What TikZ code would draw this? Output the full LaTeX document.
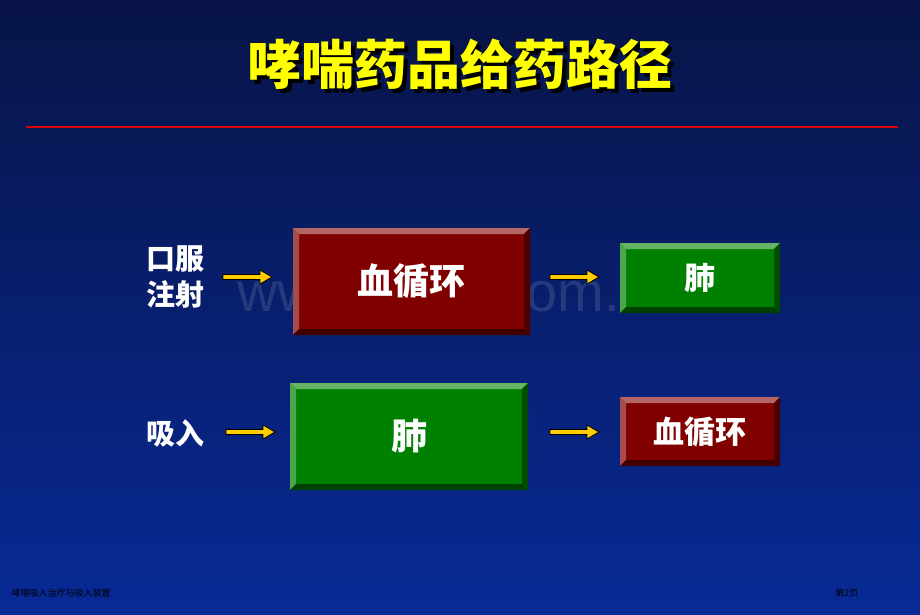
\documentclass[tikz,border=0pt]{standalone}
\usepackage{fontspec}
\newfontfamily\cjk{Noto Sans CJK SC}
\newfontfamily\wmfont{Liberation Sans}
\newfontfamily\footfont{Liberation Serif}
\definecolor{bgtop}{RGB}{8,20,70}
\definecolor{bgbot}{RGB}{8,42,150}
\definecolor{boxred}{RGB}{128,0,0}
\definecolor{boxgreen}{RGB}{0,128,0}
\definecolor{titleyellow}{RGB}{255,255,0}
\definecolor{arrowyellow}{RGB}{255,204,0}
\tikzset{
  lbl/.style={text=white,font=\cjk\bfseries\fontsize{29}{36}\selectfont,align=center},
  boxtext/.style={text=white,font=\cjk\bfseries\fontsize{#1}{#1}\selectfont},
  yarrow/.style={fill=arrowyellow,draw=black,line width=0.8pt,line join=miter},
}
% bevelled box: name, x1, y1, x2, y2, colour, text, size
\newcommand{\bevelbox}[8]{%
  \fill[#6] (#2,#3) rectangle (#4,#5);
  \fill[#6!60!white] (#2,#3) -- (#4,#3) -- (#4-6,#3+6) -- (#2+6,#3+6) -- cycle;
  \fill[#6!70!white] (#2,#3) -- (#2+6,#3+6) -- (#2+6,#5-6) -- (#2,#5) -- cycle;
  \fill[#6!60!black] (#4,#3) -- (#4,#5) -- (#4-6,#5-6) -- (#4-6,#3+6) -- cycle;
  \fill[#6!50!black] (#2,#5) -- (#4,#5) -- (#4-6,#5-6) -- (#2+6,#5-6) -- cycle;
  \node[boxtext=#8] (#1) at ({(#2+#4)/2},{(#3+#5)/2}) {#7};
}
% block arrow: name, x start, y centre
\newcommand{\blockarrow}[3]{%
  \draw[yarrow] (#2,#3-2.5) -- (#2+37,#3-2.5) -- (#2+37,#3-7) -- (#2+49,#3)
    -- (#2+37,#3+7) -- (#2+37,#3+2.5) -- (#2,#3+2.5) -- cycle;
  \coordinate (#1) at (#2+49,#3);
}
\begin{document}
\begin{tikzpicture}[x=1pt,y=-1pt]
  \shade[top color=bgtop,bottom color=bgbot] (0,0) rectangle (920,614);
  \useasboundingbox (0,0) rectangle (920,614);
  % title
  \node[text=black,font=\cjk\bfseries\fontsize{53}{53}\selectfont] at (464,68) {哮喘药品给药路径};
  \node[text=titleyellow,font=\cjk\bfseries\fontsize{53}{53}\selectfont] (title) at (460,64) {哮喘药品给药路径};
  \draw[red!85!black,line width=1.5pt] (26,127) -- (898,127);
  % watermark
  \node[text=white,opacity=0.12,font=\wmfont\fontsize{56}{56}\selectfont] (wm) at (458,291) {www.zixin.com.cn};
  % boxes
  \bevelbox{blood1}{293}{228}{530}{335}{boxred}{血循环}{36}
  \bevelbox{lung1}{620}{243}{780}{313}{boxgreen}{肺}{31}
  \bevelbox{lung2}{290}{383}{528}{490}{boxgreen}{肺}{36}
  \bevelbox{blood2}{620}{397}{780}{466}{boxred}{血循环}{31}
  % labels
  \node[lbl] (oral) at (175,277) {口服\\注射};
  \node[lbl] (inhale) at (175,433) {吸入};
  % arrows
  \blockarrow{a1}{223}{277}
  \blockarrow{a2}{550}{277}
  \blockarrow{a3}{226}{432}
  \blockarrow{a4}{550}{432}
  % footer
  \node[anchor=west,text=black,font=\footfont\fontsize{10}{10}\selectfont] (foot) at (8,593) {\cjk\fontsize{9}{9}\selectfont 哮喘吸入治疗与吸入装置};
  \node[anchor=east,text=black,font=\cjk\fontsize{9}{9}\selectfont] (page) at (862,593) {第2页};
\end{tikzpicture}
\end{document}
